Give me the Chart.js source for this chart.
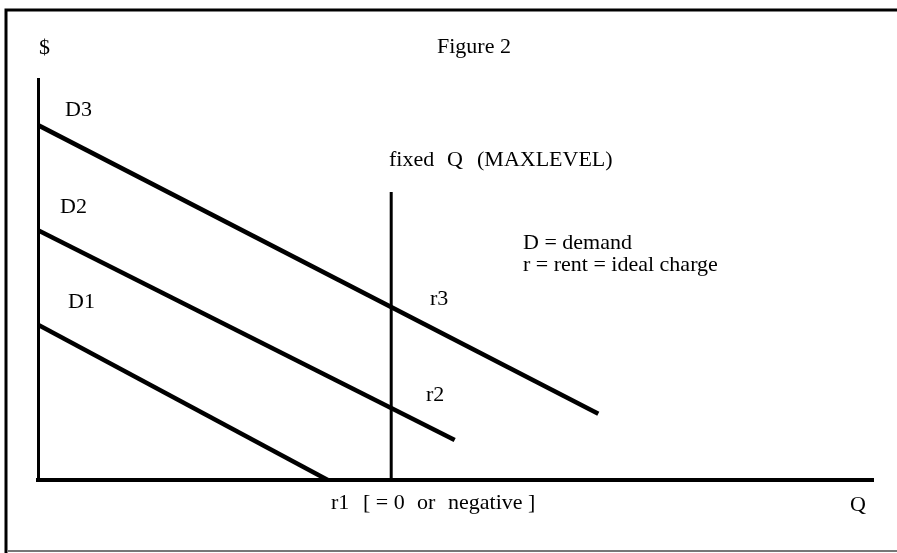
<!DOCTYPE html>
<html>
<head>
<meta charset="utf-8">
<script src="https://cdn.jsdelivr.net/npm/chart.js@4/dist/chart.umd.min.js"></script>
<style>
  html, body { margin: 0; padding: 0; background: #fff; }
  #wrap { position: relative; width: 897px; height: 553px; }
</style>
</head>
<body>
<div id="wrap"><canvas id="fig"></canvas></div>
<script>
// demand curves (Q, $) in chart units
const demandNames = ['D3', 'D2', 'D1'];
const demandStartQ = [0, 0, 0];
const demandStartP = [8.85, 6.23, 3.87];
const demandEndQ = [6.71, 4.99, 3.47];
const demandEndP = [1.65, 1.0, 0];

// the fixed quantity (MAXLEVEL)
const fixedQ = 4.23;
const fixedQTop = 7.18;

// axis ranges
const qMax = 10;
const pMax = 10;

// text on the figure: [text, x, y] in page pixels
const FONT = '22px "Liberation Serif", "Times New Roman", serif';
const notes = [
  ['$', 39, 48],
  ['Figure 2', 437, 47],
  ['D3', 65, 110],
  ['D2', 60, 207],
  ['D1', 68, 302],
  ['fixed', 389, 160],
  ['Q', 447, 160],
  ['(MAXLEVEL)', 477, 160],
  ['D = demand', 523, 243],
  ['r = rent = ideal charge', 523, 265],
  ['r3', 430, 299],
  ['r2', 426, 395],
  ['r1', 331, 503],
  ['[ = 0', 363, 503],
  ['or', 417, 503],
  ['negative ]', 448, 503],
  ['Q', 850, 505]
];

function line(q0, p0, q1, p1) {
  return [{ x: q0, y: p0 }, { x: q1, y: p1 }];
}

const datasets = demandNames.map((name, i) => ({
  label: name,
  data: line(demandStartQ[i], demandStartP[i], demandEndQ[i], demandEndP[i]),
  borderColor: '#000',
  borderWidth: 4.5,
  pointRadius: 0,
  fill: false,
  tension: 0
}));
datasets.push({
  label: 'fixed Q',
  data: line(fixedQ, 0, fixedQ, fixedQTop),
  borderColor: '#000',
  borderWidth: 3,
  pointRadius: 0,
  fill: false
});

// page frame + annotations
const framePlugin = {
  id: 'frame',
  beforeDraw(chart) {
    const c = chart.ctx;
    c.save();
    c.fillStyle = '#fff';
    c.fillRect(0, 0, chart.width, chart.height);
    c.strokeStyle = '#000';
    c.lineWidth = 3;
    c.beginPath();
    c.moveTo(6, 553);
    c.lineTo(6, 10);
    c.lineTo(897, 10);
    c.stroke();
    c.strokeStyle = '#777';
    c.lineWidth = 2;
    c.beginPath();
    c.moveTo(8, 551);
    c.lineTo(897, 551);
    c.stroke();
    c.restore();
  },
  afterDraw(chart) {
    const c = chart.ctx;
    c.save();
    c.fillStyle = '#000';
    c.font = FONT;
    c.textBaseline = 'middle';
    c.textAlign = 'left';
    notes.forEach(([t, x, y]) => c.fillText(t, x, y));
    c.restore();
  }
};

new Chart(document.getElementById('fig'), {
  type: 'line',
  data: { datasets },
  options: {
    responsive: true,
    maintainAspectRatio: false,
    animation: false,
    events: [],
    layout: { padding: { left: 38, right: 24, top: 79, bottom: 73 } },
    plugins: { legend: { display: false }, tooltip: { enabled: false } },
    scales: {
      x: {
        type: 'linear', min: 0, max: qMax,
        ticks: { display: false },
        grid: { display: false, drawTicks: false },
        border: { display: true, color: '#000', width: 4 }
      },
      y: {
        type: 'linear', min: 0, max: pMax,
        ticks: { display: false },
        grid: { display: false, drawTicks: false },
        border: { display: true, color: '#000', width: 3 }
      }
    }
  },
  plugins: [framePlugin]
});
</script>
</body>
</html>
